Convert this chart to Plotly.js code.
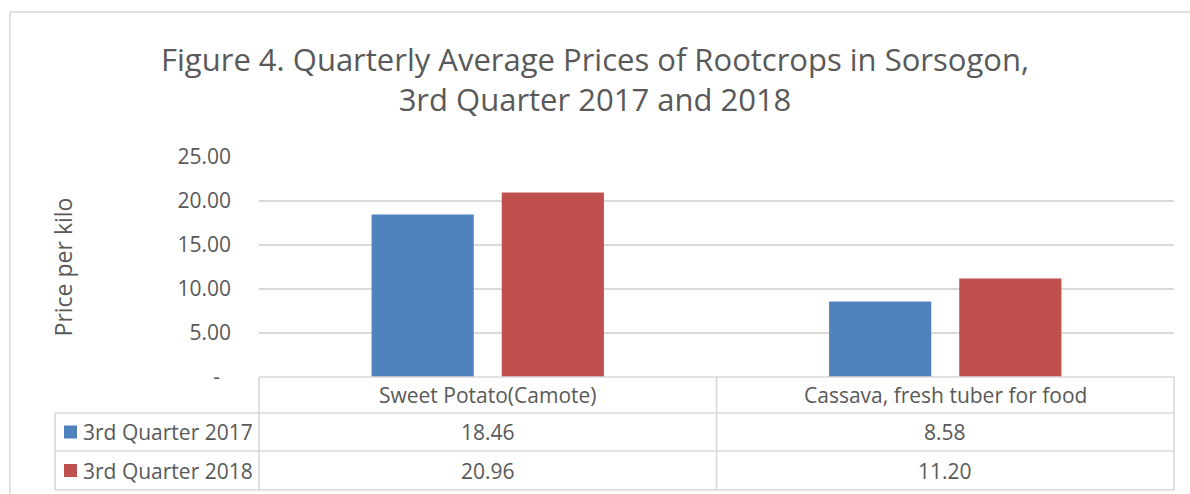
<!DOCTYPE html>
<html>
<head>
<meta charset="utf-8">
<script src="https://cdn.plot.ly/plotly-3.0.1.min.js"></script>
<style>html,body{margin:0;padding:0;background:#fff;}#chart{width:1190px;height:494px;}</style>
</head>
<body>
<div id="chart"></div>
<script>
const categories = ["Sweet Potato(Camote)", "Cassava, fresh tuber for food"];
const seriesNames = ["3rd Quarter 2017", "3rd Quarter 2018"];
const values2017 = [18.46, 8.58];
const values2018 = [20.96, 11.20];
const seriesColors = ["#4f81bd", "#c0504d"];
const tickVals = [0, 5, 10, 15, 20, 25];
const tickText = ["-\u00a0\u00a0", "5.00", "10.00", "15.00", "20.00", "25.00"];

const W = 1190, H = 494;
const L = 259, R = 1174, T = 157, B = 377;
const pw = R - L, ph = B - T;
const px = v => (v - L) / pw;
const py = v => (B - v) / ph;

const FONT = "'Open Sans', Lato, sans-serif";
const TXT = "#595959";
const GRID = "#d9d9d9";

const allSeries = [values2017, values2018];
const traces = allSeries.map((vals, i) => ({
  type: "bar",
  x: categories,
  y: vals,
  name: seriesNames[i],
  marker: {color: seriesColors[i]},
  showlegend: false,
  hoverinfo: "x+y+name"
}));

// data-table geometry (decoration)
const rowsY = [B, 413, 451, 490];
const legendLeft = 55;
const shapes = [];
const line = (x0, y0, x1, y1) => ({type: "line", xref: "paper", yref: "paper",
  x0: px(x0), y0: py(y0), x1: px(x1), y1: py(y1), line: {color: GRID, width: 1.6}, layer: "above"});
// outer chart frame
shapes.push({type: "rect", xref: "paper", yref: "paper", x0: px(10), y0: py(520), x1: px(1210), y1: py(12),
  line: {color: GRID, width: 1.5}, fillcolor: "rgba(0,0,0,0)", layer: "below"});
shapes.push(line(L, rowsY[0], R, rowsY[0]));
shapes.push(line(legendLeft, rowsY[1], R, rowsY[1]));
shapes.push(line(legendLeft, rowsY[2], R, rowsY[2]));
shapes.push(line(legendLeft, rowsY[3], R, rowsY[3]));
shapes.push(line(legendLeft, rowsY[1], legendLeft, rowsY[3]));
shapes.push(line(L, rowsY[0], L, rowsY[3]));
for (let c = 1; c < categories.length; c++) {
  const xc = L + pw * c / categories.length;
  shapes.push(line(xc, rowsY[0], xc, rowsY[3]));
}
shapes.push(line(R, rowsY[0], R, rowsY[3]));

const TFS = 21;
const annotations = [];
categories.forEach((c, i) => {
  annotations.push({xref: "paper", yref: "paper", x: (i + 0.5) / categories.length, y: py((rowsY[0] + rowsY[1]) / 2),
    text: c, showarrow: false, font: {family: FONT, size: TFS, color: TXT}, xanchor: "center", yanchor: "middle"});
});
allSeries.forEach((vals, s) => {
  const ycPx = (rowsY[s + 1] + rowsY[s + 2]) / 2;
  const yc = py(ycPx);
  shapes.push({type: "rect", xref: "paper", yref: "paper", x0: px(64), x1: px(77),
    y0: py(ycPx + 6.5), y1: py(ycPx - 6.5), fillcolor: seriesColors[s], line: {width: 0}, layer: "above"});
  annotations.push({xref: "paper", yref: "paper", x: px(81), y: yc, text: seriesNames[s], showarrow: false,
    font: {family: FONT, size: TFS, color: TXT}, xanchor: "left", yanchor: "middle"});
  vals.forEach((v, i) => {
    annotations.push({xref: "paper", yref: "paper", x: (i + 0.5) / categories.length, y: yc,
      text: v.toFixed(2), showarrow: false, font: {family: FONT, size: TFS, color: TXT}, xanchor: "center", yanchor: "middle"});
  });
});

const layout = {
  width: W, height: H,
  margin: {l: L, r: W - R, t: T, b: H - B, autoexpand: false},
  paper_bgcolor: "#ffffff", plot_bgcolor: "#ffffff",
  title: {text: "Figure 4. Quarterly Average Prices of Rootcrops in Sorsogon,<br>3rd Quarter 2017 and 2018",
    font: {family: FONT, size: 31, color: TXT}, x: 0.5, xanchor: "center", xref: "container",
    y: 1 - 71 / H, yanchor: "middle", yref: "container"},
  barmode: "group", bargap: 0.431, bargroupgap: 0.215,
  xaxis: {type: "category", showticklabels: false, showgrid: false, zeroline: false, showline: false, ticks: "", fixedrange: true},
  yaxis: {range: [0, 25], tickvals: tickVals, ticktext: tickText, showgrid: true, gridcolor: GRID, gridwidth: 1.3,
    zeroline: false, showline: false, ticks: "", ticklabelstandoff: 27,
    tickfont: {family: FONT, size: 21, color: TXT},
    title: {text: "Price per kilo", font: {family: FONT, size: 23, color: TXT}, standoff: 98}, automargin: false},
  shapes: shapes,
  annotations: annotations,
  font: {family: FONT, color: TXT}
};

Plotly.newPlot("chart", traces, layout, {displayModeBar: false, staticPlot: true});
</script>
</body>
</html>
